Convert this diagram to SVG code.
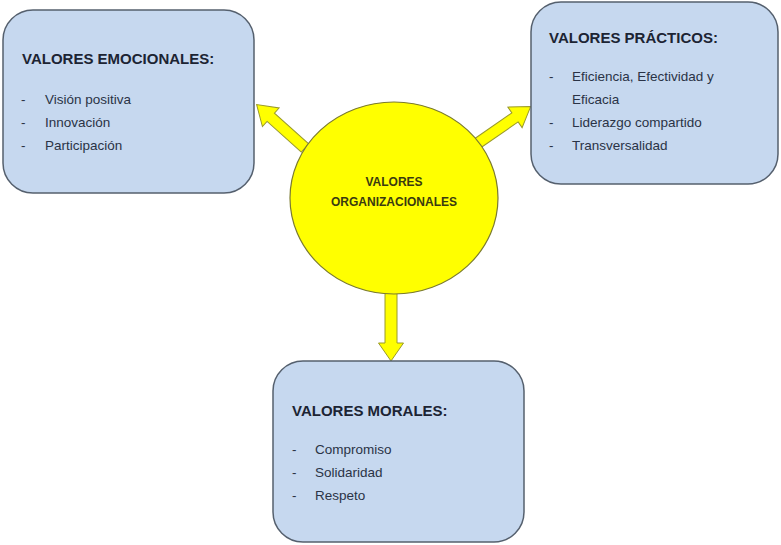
<svg xmlns="http://www.w3.org/2000/svg" width="781" height="545" viewBox="0 0 781 545">
<style>
.box{fill:#c6d8ef;stroke:#55606e;stroke-width:1.5}
.title{font-family:"Liberation Sans",Arial,sans-serif;font-weight:bold;font-size:15px;fill:#1c2433}
.item{font-family:"Liberation Sans",Arial,sans-serif;font-size:13.5px;fill:#2a3346}
.ctext{font-family:"Liberation Sans",Arial,sans-serif;font-weight:bold;font-size:12px;fill:#3a3a10;text-anchor:middle}
.arrow{fill:#ffff00;stroke:#9a9a2a;stroke-width:1}
.circ{fill:#ffff00;stroke:#7a7a30;stroke-width:1.2}
</style>
<rect width="781" height="545" fill="#ffffff"/>
<g id="connectors">
<path class="arrow" transform="translate(305,148) rotate(221.9)" d="M0,-5.5 L46,-5.5 L46,-12.5 L65,0 L46,12.5 L46,5.5 L0,5.5 Z"/>
<path class="arrow" transform="translate(478,143) rotate(-34.7)" d="M0,-5.5 L45,-5.5 L45,-12.5 L64,0 L45,12.5 L45,5.5 L0,5.5 Z"/>
<path class="arrow" transform="translate(391,288) rotate(90)" d="M0,-6 L55,-6 L55,-12.5 L73,0 L55,12.5 L55,6 L0,6 Z"/>
</g>
<g id="emocionales">
<rect class="box" x="3" y="10" width="251" height="183" rx="30"/>
<text class="title" x="22" y="64">VALORES EMOCIONALES:</text>
<text class="item" x="21" y="104">-</text><text class="item" x="45" y="104">Visión positiva</text>
<text class="item" x="21" y="127">-</text><text class="item" x="45" y="127">Innovación</text>
<text class="item" x="21" y="150">-</text><text class="item" x="45" y="150">Participación</text>
</g>
<g id="practicos">
<rect class="box" x="531" y="2" width="247" height="182" rx="30"/>
<text class="title" x="549" y="43">VALORES PRÁCTICOS:</text>
<text class="item" x="549" y="81">-</text><text class="item" x="572" y="81">Eficiencia, Efectividad  y</text>
<text class="item" x="572" y="104">Eficacia</text>
<text class="item" x="549" y="127">-</text><text class="item" x="572" y="127">Liderazgo compartido</text>
<text class="item" x="549" y="150">-</text><text class="item" x="572" y="150">Transversalidad</text>
</g>
<g id="morales">
<rect class="box" x="273" y="361" width="251" height="181" rx="30"/>
<text class="title" x="292" y="416">VALORES MORALES:</text>
<text class="item" x="292" y="454">-</text><text class="item" x="315" y="454">Compromiso</text>
<text class="item" x="292" y="477">-</text><text class="item" x="315" y="477">Solidaridad</text>
<text class="item" x="292" y="500">-</text><text class="item" x="315" y="500">Respeto</text>
</g>
<g id="organizacionales">
<ellipse class="circ" cx="394" cy="198" rx="104" ry="96"/>
<text class="ctext" x="394" y="186">VALORES</text>
<text class="ctext" x="394" y="206">ORGANIZACIONALES</text>
</g>
</svg>
